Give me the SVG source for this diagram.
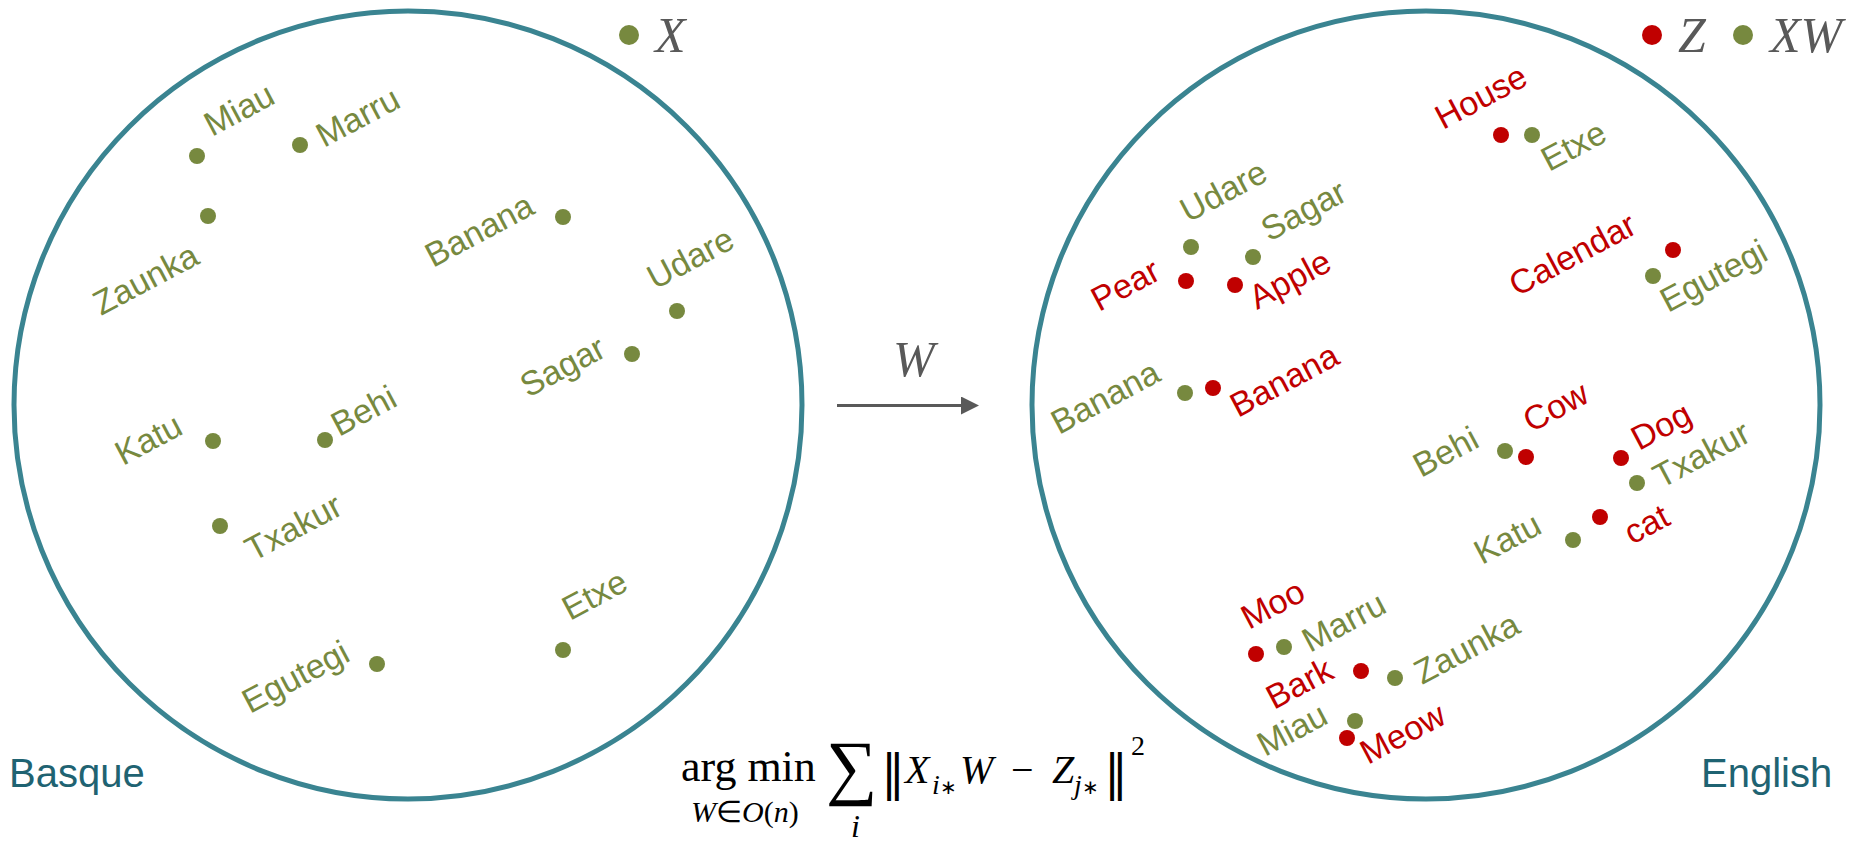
<svg xmlns="http://www.w3.org/2000/svg" width="1854" height="841" viewBox="0 0 1854 841">
<defs>
<style>
.space{fill:none;stroke:#3A8491;stroke-width:5}
.g{fill:#77893F}
.r{fill:#C00000}
.lg{fill:#77893F;font-family:"Liberation Sans",Arial,sans-serif;font-size:34px}
.lr{fill:#C00000;font-family:"Liberation Sans",Arial,sans-serif;font-size:34px}
.lang{fill:#1F6372;font-family:"Liberation Sans",Arial,sans-serif;font-size:40px}
.leg{fill:#595959;font-family:"Liberation Serif","Times New Roman",serif;font-style:italic;font-size:50px}
.m{font-family:"Liberation Serif","Times New Roman",serif;fill:#000}
.mi{font-style:italic}
.nb{font-family:"DejaVu Serif",serif;font-size:48px}
</style>
<marker id="ah" markerWidth="6" markerHeight="6" refX="5" refY="3" orient="auto" markerUnits="strokeWidth">
<path d="M0,0 L6,3 L0,6 Z" fill="#595959"/>
</marker>
</defs>
<rect width="1854" height="841" fill="#fff"/>

<g id="basque-space">
<circle class="space" cx="408" cy="405" r="394"/>
<text class="lang" x="9" y="787">Basque</text>
</g>
<g id="english-space">
<circle class="space" cx="1426" cy="405" r="394"/>
<text class="lang" x="1701" y="787">English</text>
</g>

<g id="legend-x">
<circle class="g" cx="629" cy="35" r="10"/>
<text class="leg" x="655" y="52">X</text>
</g>
<g id="legend-z-xw">
<circle class="r" cx="1652" cy="35" r="10"/>
<text class="leg" x="1678" y="52">Z</text>
<circle class="g" cx="1743" cy="35" r="10"/>
<text class="leg" x="1770" y="52">XW</text>
</g>

<!-- Basque points -->
<g id="b-miau"><circle class="g" cx="197" cy="156" r="8"/><text class="lg" x="212" y="137" transform="rotate(-28 212 137)">Miau</text></g>
<g id="b-marru"><circle class="g" cx="300" cy="145" r="8"/><text class="lg" x="324" y="148" transform="rotate(-28 324 148)">Marru</text></g>
<g id="b-zaunka"><circle class="g" cx="208" cy="216" r="8"/><text class="lg" x="101" y="316" transform="rotate(-28 101 316)">Zaunka</text></g>
<g id="b-banana"><circle class="g" cx="563" cy="217" r="8"/><text class="lg" x="433" y="268" transform="rotate(-28 433 268)">Banana</text></g>
<g id="b-udare"><circle class="g" cx="677" cy="311" r="8"/><text class="lg" x="655" y="290" transform="rotate(-28 655 290)">Udare</text></g>
<g id="b-sagar"><circle class="g" cx="632" cy="354" r="8"/><text class="lg" x="528" y="398" transform="rotate(-28 528 398)">Sagar</text></g>
<g id="b-katu"><circle class="g" cx="213" cy="441" r="8"/><text class="lg" x="123" y="466" transform="rotate(-28 123 466)">Katu</text></g>
<g id="b-behi"><circle class="g" cx="325" cy="440" r="8"/><text class="lg" x="339" y="437" transform="rotate(-28 339 437)">Behi</text></g>
<g id="b-txakur"><circle class="g" cx="220" cy="526" r="8"/><text class="lg" x="253" y="562" transform="rotate(-28 253 562)">Txakur</text></g>
<g id="b-egutegi"><circle class="g" cx="377" cy="664" r="8"/><text class="lg" x="250" y="714" transform="rotate(-28 250 714)">Egutegi</text></g>
<g id="b-etxe"><circle class="g" cx="563" cy="650" r="8"/><text class="lg" x="570" y="621" transform="rotate(-28 570 621)">Etxe</text></g>

<!-- English points -->
<g id="e-house"><circle class="r" cx="1501" cy="135" r="8"/><text class="lr" x="1443" y="130" transform="rotate(-28 1443 130)">House</text></g>
<g id="e-etxe"><circle class="g" cx="1532" cy="135" r="8"/><text class="lg" x="1549" y="172" transform="rotate(-28 1549 172)">Etxe</text></g>
<g id="e-udare"><circle class="g" cx="1191" cy="247" r="8"/><text class="lg" x="1188" y="223" transform="rotate(-28 1188 223)">Udare</text></g>
<g id="e-sagar"><circle class="g" cx="1253" cy="257" r="8"/><text class="lg" x="1269" y="242" transform="rotate(-28 1269 242)">Sagar</text></g>
<g id="e-pear"><circle class="r" cx="1186" cy="281" r="8"/><text class="lr" x="1099" y="312" transform="rotate(-28 1099 312)">Pear</text></g>
<g id="e-apple"><circle class="r" cx="1235" cy="285" r="8"/><text class="lr" x="1257" y="310" transform="rotate(-28 1257 310)">Apple</text></g>
<g id="e-calendar"><circle class="r" cx="1673" cy="250" r="8"/><text class="lr" x="1517" y="297" transform="rotate(-28 1517 297)">Calendar</text></g>
<g id="e-egutegi"><circle class="g" cx="1653" cy="276" r="8"/><text class="lg" x="1668" y="313" transform="rotate(-28 1668 313)">Egutegi</text></g>
<g id="e-banana-xw"><circle class="g" cx="1185" cy="393" r="8"/><text class="lg" x="1059" y="435" transform="rotate(-28 1059 435)">Banana</text></g>
<g id="e-banana"><circle class="r" cx="1213" cy="388" r="8"/><text class="lr" x="1238" y="418" transform="rotate(-28 1238 418)">Banana</text></g>
<g id="e-behi"><circle class="g" cx="1505" cy="451" r="8"/><text class="lg" x="1421" y="478" transform="rotate(-28 1421 478)">Behi</text></g>
<g id="e-cow"><circle class="r" cx="1526" cy="457" r="8"/><text class="lr" x="1531" y="433" transform="rotate(-28 1531 433)">Cow</text></g>
<g id="e-dog"><circle class="r" cx="1621" cy="458" r="8"/><text class="lr" x="1639" y="451" transform="rotate(-28 1639 451)">Dog</text></g>
<g id="e-txakur"><circle class="g" cx="1637" cy="483" r="8"/><text class="lg" x="1661" y="489" transform="rotate(-28 1661 489)">Txakur</text></g>
<g id="e-katu"><circle class="g" cx="1573" cy="540" r="8"/><text class="lg" x="1482" y="565" transform="rotate(-28 1482 565)">Katu</text></g>
<g id="e-cat"><circle class="r" cx="1600" cy="517" r="8"/><text class="lr" x="1632" y="545" transform="rotate(-28 1632 545)">cat</text></g>
<g id="e-moo"><circle class="r" cx="1256" cy="654" r="8"/><text class="lr" x="1249" y="630" transform="rotate(-28 1249 630)">Moo</text></g>
<g id="e-marru"><circle class="g" cx="1284" cy="647" r="8"/><text class="lg" x="1310" y="653" transform="rotate(-28 1310 653)">Marru</text></g>
<g id="e-bark"><circle class="r" cx="1361" cy="671" r="8"/><text class="lr" x="1274" y="710" transform="rotate(-28 1274 710)">Bark</text></g>
<g id="e-zaunka"><circle class="g" cx="1395" cy="678" r="8"/><text class="lg" x="1422" y="685" transform="rotate(-28 1422 685)">Zaunka</text></g>
<g id="e-miau"><circle class="g" cx="1355" cy="721" r="8"/><text class="lg" x="1265" y="757" transform="rotate(-28 1265 757)">Miau</text></g>
<g id="e-meow"><circle class="r" cx="1347" cy="738" r="8"/><text class="lr" x="1368" y="765" transform="rotate(-28 1368 765)">Meow</text></g>

<g id="connectors">
<line x1="837" y1="405.5" x2="976" y2="405.5" stroke="#595959" stroke-width="3" marker-end="url(#ah)"/>
</g>
<text class="leg" x="893" y="376">W</text>

<g id="formula" class="m">
<text x="681" y="781" font-size="44">arg min</text>
<text x="691" y="822" font-size="30"><tspan class="mi">W</tspan>∈<tspan class="mi">O</tspan>(<tspan class="mi">n</tspan>)</text>
<text x="826" y="791" font-size="72">∑</text>
<text x="851" y="837" font-size="32" class="mi">i</text>
<text class="nb" x="881" y="790">‖</text>
<text x="905" y="783" font-size="40" class="mi">X</text>
<text x="932" y="794" font-size="28"><tspan class="mi">i</tspan><tspan font-size="20">∗</tspan></text>
<text x="960" y="783" font-size="40" class="mi">W</text>
<text x="1011" y="783" font-size="40">−</text>
<text x="1052" y="783" font-size="40" class="mi">Z</text>
<text x="1074" y="794" font-size="28"><tspan class="mi">j</tspan><tspan font-size="20">∗</tspan></text>
<text class="nb" x="1104" y="790">‖</text>
<text x="1131" y="755" font-size="28">2</text>
</g>
</svg>
